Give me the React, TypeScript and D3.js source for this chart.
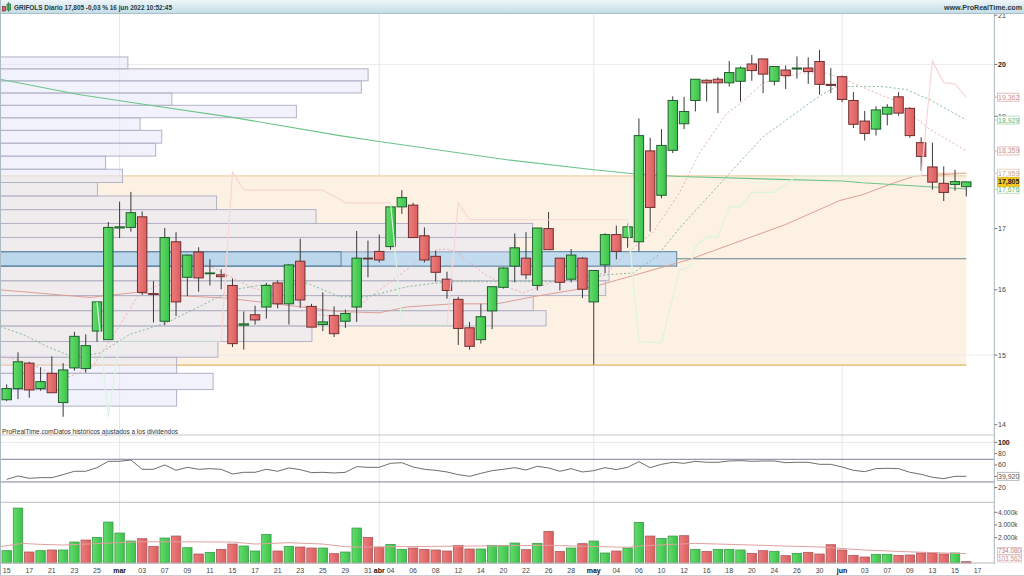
import React from "react";
import * as d3 from "d3";

const W = 1024;
const H = 576;

const opens = [
  14.35,14.51,14.88,14.51,14.73,14.31,14.81,14.80,15.36,15.23,
  17.01,17.02,17.20,15.94,15.51,16.78,16.20,16.61,16.26,16.24,
  16.07,15.45,15.61,15.73,16.11,15.78,16.46,15.74,15.46,15.60,
  15.51,15.73,16.51,16.62,16.70,17.37,17.40,16.88,16.54,16.17,
  15.85,15.41,15.23,15.67,16.04,16.38,16.51,16.07,17.00,16.51,
  16.17,16.51,15.81,16.40,16.90,16.85,16.78,18.36,17.57,18.37,
  18.86,19.30,19.69,19.71,19.64,19.67,20.01,20.11,19.67,19.89,
  19.91,19.93,20.06,19.61,19.76,19.30,18.91,18.76,19.04,19.37,
  19.15,18.51,18.07,17.78,17.76,17.72,
];
const closes = [
  14.51,14.90,14.49,14.61,14.45,14.78,15.28,15.14,15.81,17.02,
  17.03,17.27,15.96,15.93,16.85,15.81,16.56,16.19,16.27,16.21,
  15.17,15.47,15.53,16.07,15.78,16.40,15.84,15.42,15.50,15.32,
  15.63,16.51,16.50,16.48,17.37,17.53,16.85,16.48,16.28,15.99,
  15.40,15.13,15.58,16.05,16.35,16.68,16.24,17.01,16.65,16.12,
  16.56,16.01,16.31,16.90,16.62,17.03,18.64,17.36,18.46,19.30,
  19.09,19.71,19.64,19.64,19.84,19.93,19.88,19.81,19.96,19.78,
  19.93,19.86,19.61,19.59,19.32,18.85,18.68,19.12,19.17,19.06,
  18.64,18.26,17.80,17.62,17.81,17.805,
];
const highs = [
  14.57,15.04,14.90,14.82,14.98,14.88,15.35,15.31,15.81,17.11,
  17.46,17.63,17.29,16.14,17.01,16.94,16.57,16.69,16.49,16.33,
  16.18,15.66,15.75,16.11,16.15,16.41,16.83,15.78,15.96,15.74,
  15.69,16.96,16.80,16.90,17.37,17.66,17.44,17.02,16.63,16.29,
  15.89,15.50,15.78,16.05,16.36,16.92,16.94,17.01,17.28,16.51,
  16.66,16.53,16.31,16.92,17.05,17.09,18.96,18.60,18.76,19.38,
  19.37,19.71,19.71,19.75,20.07,19.96,20.19,20.11,19.96,19.98,
  20.16,20.14,20.29,19.93,19.78,19.46,19.10,19.19,19.23,19.46,
  19.17,18.61,18.51,18.08,18.02,17.805,
];
const lows = [
  14.33,14.36,14.38,14.48,14.45,14.11,14.77,14.74,15.20,15.23,
  16.84,16.95,15.92,15.49,15.45,15.59,15.90,15.97,16.07,16.01,
  15.12,15.08,15.46,15.55,15.71,15.46,15.72,15.42,15.36,15.27,
  15.41,15.50,16.20,16.44,16.65,17.25,16.85,16.44,16.13,15.86,
  15.15,15.08,15.17,15.39,16.02,16.12,16.17,15.99,16.65,15.99,
  16.12,15.87,14.86,16.27,16.49,16.68,16.62,16.95,17.52,18.32,
  18.76,19.09,19.28,19.06,19.57,19.28,19.68,19.44,19.59,19.52,
  19.72,19.62,19.41,19.44,19.27,18.78,18.55,18.64,18.83,19.01,
  18.60,18.00,17.67,17.47,17.65,17.55,
];
const volumes = [
  971,4331,866,971,1024,1024,1654,1811,2021,3229,
  2363,1733,1916,1313,1969,2126,1208,709,840,1076,
  1496,1339,945,2258,945,1313,1260,1181,1181,735,
  866,2756,2021,1208,1470,1076,1181,1076,1024,945,
  1391,1103,1103,1391,1391,1575,1050,1549,2494,919,
  1181,1523,1733,788,945,1181,3203,2126,1943,2126,
  2153,1076,919,1076,1076,1024,761,971,919,578,
  761,840,709,1444,1024,604,473,683,683,604,
  630,788,788,709,788,103.562,
];
const rsi = [
  34.6,40.5,36.4,37.6,37.6,42.9,48.8,48.8,55.2,66.4,
  66.4,68.8,52.3,52.3,60,50.5,55.8,52.3,53.5,52.3,
  44,47,47,52.3,48.8,54.7,51.7,46.4,47,45.8,
  47,57,55.8,55.8,62.9,64,56.4,52.3,50.5,47.6,
  42.9,39.9,45.2,49.9,52.3,55.2,51.1,57.6,54.7,48.8,
  53.5,47.6,49.9,55.2,51.7,55.8,65.8,55.2,61.1,64.7,
  62.9,66.4,64.7,64.7,67,67.6,66.4,67,67,64,
  64.7,64.7,61.1,61.1,56.4,50.5,48.2,53.5,54.1,53.5,
  47,43.5,38.2,35.8,39.9,39.92,
];

// indicators read at their break points: bar position + value
const longMaBars = [-0.6,6.5,13,20,29.5,33,44.3,52,55.5,59.6,68.5,74,75.8,85];
const longMaVals = [19.71,19.41,19.20,18.98,18.64,18.53,18.20,18.02,17.95,17.90,17.85,17.82,17.79,17.68];
const slowMaBars = [-0.6,7.4,11.5,13.6,16,19.5,29.5,33,35.4,39.5,43.4,46.6,52,59,60.5,69,73.8,75.8,78.5,80.3,81,82,85];
const slowMaVals = [16.0,15.88,15.96,15.92,15.90,15.87,15.66,15.64,15.73,15.78,15.78,15.89,16.05,16.41,16.49,17.07,17.48,17.58,17.78,17.90,17.92,17.92,17.96];
const greenDashBars = [-0.6,1.4,3.8,5.9,8.3,10.9,14.2,17.1,20,22.7,25.1,26.6,29.5,31.9,35.5,39,43.7,48.7,53.2,55.5,57.6,59.6,67,71.9,73.5,77.4,79.7,81.8,85];
const greenDashVals = [15.43,15.31,15.11,14.97,15.03,15.31,15.49,15.74,16.0,16.08,16.08,16.11,15.89,15.89,16.05,16.13,16.13,16.13,16.24,16.27,16.54,17.01,18.62,19.37,19.57,19.57,19.51,19.31,18.93];
const pinkDashBars = [-0.6,1.8,3.8,5.6,7.6,9.4,10.7,11.8,14.2,17.7,19.5,21.8,25.1,27.7,30,32.2,34,36.3,38.1,39,39.9,42.2,44.3,45.7,48.4,50.8,53.2,54.6,57.2,58.6,59.6,61.4,63.8,65.1,67,70.3,72.6,74.7,78.5,81.8,85];
const pinkDashVals = [14.99,14.89,14.74,14.68,14.83,15.28,15.64,15.95,16.13,16.41,16.24,16.03,15.89,15.61,15.57,15.89,16.13,16.44,16.65,16.66,16.60,16.27,16.05,15.95,16.13,16.21,16.27,16.54,16.93,17.32,17.62,18.33,19.06,19.26,19.64,19.83,19.83,19.66,19.31,18.75,18.36];

const paleGreenRuns = [
  { bars: [8,9,10,19], vals: [15.81,14.11,15.21,15.21] },
  { bars: [34,35,39], vals: [17.44,15.46,15.46] },
  { bars: [55,56,58,59.6,60.5,61,62,63,64,65,66,68,70,81], vals: [17.15,15.20,15.18,16.32,16.36,16.70,16.86,16.86,17.37,17.37,17.62,17.62,17.91,17.91] },
];
const palePinkRuns = [
  { bars: [19,20,21,28,29.5,30,34], vals: [15.21,17.98,17.66,17.66,17.50,17.44,17.44] },
  { bars: [39,40,41,55], vals: [15.46,17.44,17.15,17.15] },
  { bars: [81,82,83,84,85], vals: [17.91,20.07,19.64,19.62,19.36] },
];

const volMaBars = [-0.6,1.4,3,5,10,12,20,22,25,28,30,31,48,55,56,59,61,72,76,80,85];
const volMaVals = [1286,1549,1470,1418,1601,1680,1654,1496,1601,1496,1286,1260,1391,1234,1339,1470,1549,1260,1024,880,734.08];

// volume profile, lowest bucket first
const profileFirstEdge = 14.26;
const profileStep = 0.2356;
const profileVolumes = [261,315,261,322,461,807,788,895,900,1000,762,787,467,320,144,181,156,230,239,207,438,254,534,544,189];
const profilePeak = 1000;
const profilePeakSplit = 504;

const boxTop = 17.91;
const boxBottom = 14.85;
const boxEndBar = 85;
const pocPrice = 16.5;
const levelPrice = 17.959;

const dateLabels = ["15","17","21","23","25","mar","03","07","09","11","15","17","21","23","25","29","31","abr","04","06","08","12","14","20","22","26","28","may","04","06","10","12","16","18","20","24","26","30","jun","03","07","09","13","15","17"];
const monthBars = [10,33,52,74];
const dateBars = [0,2,4,6,8,10,12,14,16,18,20,22,24,26,28,30,32,33,34,36,38,40,42,44,46,48,50,52,54,56,58,60,62,64,66,68,70,72,74,76,78,80,82,84,86];

const priceTicks = [21,20,19,17,16,15,14];
const priceGrid = [20,15];
const rsiTicks = [100,80,60,20];
const rsiBands = [70,30];
const volTicks = [4000,3000,2000];

const priceBoxes = [
  { v: 19.362, t: "19,362", c: "#dcb0b0", f: "#c99090" },
  { v: 18.929, t: "18,929", c: "#a5d8b2", f: "#5cb874" },
  { v: 18.359, t: "18,359", c: "#dcb0b0", f: "#c99090" },
  { v: 17.959, t: "17,959", c: "#e0c4b0", f: "#c9a590" },
  { v: 17.676, t: "17,676", c: "#a5d8b2", f: "#5cb874" },
];

const x = d3.scaleLinear().domain([0, 85]).range([6.7, 966.3]);
const y = d3.scaleLog().domain([14, 21]).range([424.7, 15.2]);
const yRsi = d3.scaleLinear().domain([20, 100]).range([487.6, 442.3]);
const yVol = d3.scaleLinear().domain([0, 4000]).range([563, 512.3]);
const xProfile = d3.scaleLinear().domain([0, profilePeak]).range([0, 676.7]);

const AXIS_X = 994.3;
const BODY = 9.4;
const FONT = "'Liberation Sans', Arial, sans-serif";

function pathOf(bars: number[], vals: number[], sy: (v: number) => number) {
  const l = d3.line<number>().x((b) => x(b)).y((_, i) => sy(vals[i]));
  return l(bars) || "";
}

export default function App() {
  const py = (v: number) => y(v) as number;
  return (
    <svg width={W} height={H} style={{ position: "fixed", left: 0, top: 0, display: "block", background: "#fff" }} fontFamily={FONT}>
      <defs>
        <linearGradient id="hdr" x1="0" y1="0" x2="0" y2="1">
          <stop offset="0" stopColor="#eef6f9" />
          <stop offset="1" stopColor="#c3dce6" />
        </linearGradient>
        <linearGradient id="gf" x1="0" y1="0" x2="1" y2="0">
          <stop offset="0" stopColor="#63dc6c" />
          <stop offset="1" stopColor="#3cc24a" />
        </linearGradient>
        <linearGradient id="rf" x1="0" y1="0" x2="1" y2="0">
          <stop offset="0" stopColor="#ee7d7d" />
          <stop offset="1" stopColor="#dc5e5e" />
        </linearGradient>
      </defs>

      {/* grid */}
      {monthBars.map((b) => (
        <line key={b} x1={x(b)} x2={x(b)} y1={14} y2={563} stroke="#e6e6e9" />
      ))}

      {/* range box */}
      <rect x={0} y={py(boxTop)} width={x(boxEndBar)} height={py(boxBottom) - py(boxTop)} fill="#fdf1e3" />
      <line x1={0} x2={x(boxEndBar)} y1={py(boxTop)} y2={py(boxTop)} stroke="#eed3a6" strokeWidth={1.2} />
      <line x1={0} x2={x(boxEndBar)} y1={py(boxBottom)} y2={py(boxBottom)} stroke="#e0b662" strokeWidth={1.2} />

      {priceGrid.map((p) => (
        <line key={p} x1={0} x2={AXIS_X} y1={py(p)} y2={py(p)} stroke="#ececef" />
      ))}

      {/* volume profile */}
      {profileVolumes.map((v, i) => {
        const lo = profileFirstEdge + i * profileStep;
        const hi = lo + profileStep;
        const peak = v === profilePeak;
        return (
          <rect key={i} x={0} y={py(hi)} width={xProfile(v)} height={py(lo) - py(hi)}
            fill={peak ? "#c2dbee" : "rgba(228,230,248,0.5)"}
            stroke={peak ? "#5a84a2" : "#b3b3c6"} strokeWidth={1} />
        );
      })}
      <rect x={0} y={py(profileFirstEdge + 10 * profileStep)} width={xProfile(profilePeakSplit)}
        height={py(profileFirstEdge + 9 * profileStep) - py(profileFirstEdge + 10 * profileStep)}
        fill="rgba(120,160,200,0.07)" stroke="#5a84a2" strokeWidth={1} />
      <line x1={xProfile(profilePeak)} x2={x(boxEndBar)} y1={py(pocPrice)} y2={py(pocPrice)} stroke="#5f8296" strokeWidth={1} />

      {/* indicators behind the candles */}
      <path d={pathOf(greenDashBars, greenDashVals, py)} fill="none" stroke="#83bc95" strokeWidth={1} strokeDasharray="2 2.2" />
      <path d={pathOf(pinkDashBars, pinkDashVals, py)} fill="none" stroke="#e8b0b0" strokeWidth={1} strokeDasharray="2 2.2" />
      <path d={pathOf(slowMaBars, slowMaVals, py)} fill="none" stroke="#dca096" strokeWidth={1} />
      <path d={pathOf(longMaBars, longMaVals, py)} fill="none" stroke="#6cc48a" strokeWidth={1.1} />
      <line x1={x(81.5)} x2={x(85)} y1={py(levelPrice)} y2={py(levelPrice)} stroke="#edbf9a" strokeWidth={1} />

      {/* candles */}
      {closes.map((c, i) => {
        const o = opens[i];
        const up = c >= o;
        const top = py(Math.max(o, c));
        const bot = py(Math.min(o, c));
        return (
          <g key={i}>
            <line x1={x(i)} x2={x(i)} y1={py(highs[i])} y2={py(lows[i])} stroke="#3a3a3a" strokeWidth={1} />
            <rect x={x(i) - BODY / 2} y={top} width={BODY} height={Math.max(bot - top, 0.8)}
              fill={up ? "url(#gf)" : "url(#rf)"} stroke={up ? "#1f5f2c" : "#6e2f30"} strokeWidth={1} />
          </g>
        );
      })}

      {/* pale trailing line above the candles */}
      {paleGreenRuns.map((r, k) => (
        <path key={k} d={pathOf(r.bars, r.vals, py)} fill="none" stroke="#dcf4df" strokeWidth={1.2} />
      ))}
      {palePinkRuns.map((r, k) => (
        <path key={k} d={pathOf(r.bars, r.vals, py)} fill="none" stroke="#f8d6d6" strokeWidth={1.2} />
      ))}

      {/* note */}
      <text x={2} y={434} fontSize={6.5} fill="#333">ProRealTime.comDatos históricos ajustados a los dividendos</text>

      {/* RSI panel */}
      <line x1={0} x2={AXIS_X} y1={435} y2={435} stroke="#c8c8cc" />
      <line x1={0} x2={AXIS_X} y1={yRsi(100)} y2={yRsi(100)} stroke="#e8e8ea" />
      {rsiBands.map((b) => (
        <line key={b} x1={0} x2={AXIS_X} y1={yRsi(b)} y2={yRsi(b)} stroke="#7f7da0" strokeWidth={1} />
      ))}
      <path d={d3.line<number>().x((_, i) => x(i)).y((v) => yRsi(v))(rsi) || ""} fill="none" stroke="#484848" strokeWidth={0.8} />
      <line x1={0} x2={AXIS_X} y1={502.3} y2={502.3} stroke="#bcbcc3" />

      {/* volume panel */}
      {volumes.map((v, i) => {
        const up = i === 0 || closes[i] >= closes[i - 1];
        return (
          <rect key={i} x={x(i) - BODY / 2} y={yVol(v)} width={BODY} height={yVol(0) - yVol(v)}
            fill={up ? "url(#gf)" : "url(#rf)"} stroke={up ? "#3d9a4b" : "#a85a5c"} strokeWidth={0.8} />
        );
      })}
      <path d={pathOf(volMaBars, volMaVals, (v) => yVol(v))} fill="none" stroke="#e0a0a0" strokeWidth={1} />
      <line x1={0} x2={AXIS_X} y1={563} y2={563} stroke="#b9b9c0" />

      {/* date axis */}
      {dateLabels.map((t, i) => {
        const bold = monthBars.includes(dateBars[i]);
        return (
          <text key={i} x={x(dateBars[i])} y={573} fontSize={7} textAnchor="middle"
            fontWeight={bold ? "bold" : "normal"} fill={bold ? "#111" : "#444"}>{t}</text>
        );
      })}

      {/* right axis */}
      <rect x={AXIS_X} y={14} width={W - AXIS_X} height={562} fill="#fff" />
      <line x1={AXIS_X} x2={AXIS_X} y1={14} y2={564} stroke="#a9b4ba" />
      {priceTicks.map((p) => (
        <g key={p}>
          <line x1={AXIS_X} x2={AXIS_X + 3} y1={py(p)} y2={py(p)} stroke="#777" />
          <text x={998} y={py(p) + 2.5} fontSize={7} fontWeight={p === 20 ? "bold" : "normal"} fill={p === 20 ? "#111" : "#444"}>{p}</text>
        </g>
      ))}
      {priceBoxes.map((b) => (
        <g key={b.t}>
          <line x1={AXIS_X} x2={AXIS_X + 3} y1={py(b.v)} y2={py(b.v)} stroke={b.c} />
          <rect x={997.5} y={py(b.v) - 4} width={21.5} height={8} fill="#fff" stroke={b.c} strokeWidth={0.8} />
          <text x={998} y={py(b.v) + 2.5} fontSize={7} fill={b.f}>{b.t}</text>
        </g>
      ))}
      <rect x={997.5} y={py(17.805) - 4.5} width={21.5} height={9} fill="#f2c81e" stroke="#e0b812" strokeWidth={0.8} />
      <text x={998} y={py(17.805) + 2.5} fontSize={7} fontWeight="bold" fill="#222">17,805</text>

      {rsiTicks.map((t) => (
        <g key={t}>
          <line x1={AXIS_X} x2={AXIS_X + 3} y1={yRsi(t)} y2={yRsi(t)} stroke="#777" />
          <text x={998} y={yRsi(t) + 2.5} fontSize={7} fontWeight={t === 100 ? "bold" : "normal"} fill={t === 100 ? "#111" : "#444"}>{t}</text>
        </g>
      ))}
      <line x1={AXIS_X} x2={AXIS_X + 3} y1={yRsi(39.92)} y2={yRsi(39.92)} stroke="#777" />
      <rect x={997.5} y={yRsi(39.92) - 4} width={21.5} height={8} fill="#fff" stroke="#aaa" strokeWidth={0.8} />
      <text x={998} y={yRsi(39.92) + 2.5} fontSize={7} fill="#555">39,920</text>

      {volTicks.map((t) => (
        <g key={t}>
          <line x1={AXIS_X} x2={AXIS_X + 3} y1={yVol(t)} y2={yVol(t)} stroke="#777" />
          <text x={998} y={yVol(t) + 2.5} fontSize={6.5} fill="#444">{d3.format(".3f")(t / 1000)}k</text>
        </g>
      ))}
      <rect x={997.5} y={547.5} width={24} height={7} fill="#fff" stroke="#dcb0b0" strokeWidth={0.7} />
      <text x={998} y={553.4} fontSize={6.4} fill="#b98080">734.080</text>
      <rect x={997.5} y={555} width={24} height={7} fill="#fff" stroke="#dcb0b0" strokeWidth={0.7} />
      <text x={998} y={560.9} fontSize={6.4} fill="#c99090">103.562</text>

      {/* header */}
      <rect x={0} y={0} width={W} height={13.5} fill="url(#hdr)" />
      <line x1={0} x2={W} y1={13.5} y2={13.5} stroke="#a9c0ca" />
      <rect x={2.5} y={6.5} width={3} height={4.5} fill="#e06060" stroke="#7a2f30" strokeWidth={0.7} />
      <rect x={7} y={4} width={3.5} height={6} fill="#4fd05a" stroke="#1f6e2f" strokeWidth={0.7} />
      <line x1={8.7} x2={8.7} y1={2} y2={12} stroke="#1f6e2f" strokeWidth={0.7} />
      <text x={14} y={10} fontSize={7.4} fontWeight="bold" fill="#2a3a40" textLength={158} lengthAdjust="spacingAndGlyphs">GRIFOLS Diario 17,805 -0,03 % 16 jun 2022 10:52:45</text>
      <text x={1022} y={10} fontSize={7.1} fontWeight="bold" fill="#2a3a40" textAnchor="end">www.ProRealTime.com</text>

      {/* frame */}
      <line x1={0.5} x2={0.5} y1={0} y2={H} stroke="#aabbc2" />
      <line x1={0} x2={W} y1={575.5} y2={575.5} stroke="#c9ced2" />
    </svg>
  );
}
